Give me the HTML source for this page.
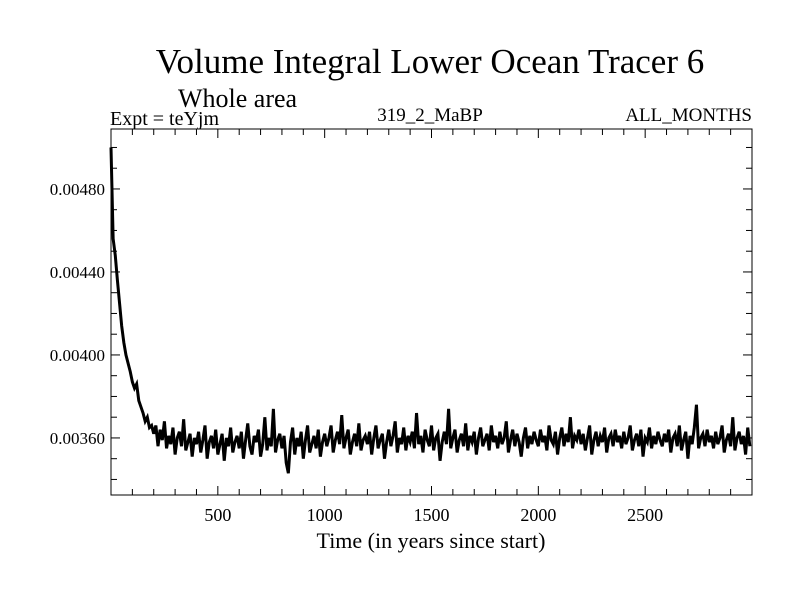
<!DOCTYPE html>
<html><head><meta charset="utf-8"><style>
body{margin:0;background:#fff;}
svg text{font-family:"Liberation Serif",serif;fill:#000;}
</style></head><body>
<svg id="chart" width="800" height="600" xmlns="http://www.w3.org/2000/svg">
<text x="430" y="73" font-size="35" text-anchor="middle">Volume Integral Lower Ocean Tracer 6</text>
<text x="178" y="107" font-size="26">Whole area</text>
<text x="110" y="125" font-size="20">Expt = teYjm</text>
<text x="430" y="121" font-size="19" text-anchor="middle">319_2_MaBP</text>
<text x="752" y="121" font-size="19" text-anchor="end">ALL_MONTHS</text>
<g id="axes"></g>
<path id="series" fill="none" stroke="#000" stroke-width="3" stroke-linejoin="miter"/>
<rect x="111" y="129" width="641" height="366" fill="none" stroke="#000" stroke-width="1"/>
<text x="431" y="548" font-size="22" text-anchor="middle">Time (in years since start)</text>
</svg>
<script>
const xTicks=[500,1000,1500,2000,2500];
const yTicks=[0.0036,0.0040,0.0044,0.0048];
const yTickLabels=["0.00360","0.00400","0.00440","0.00480"];
const yearStep=10;
const valuesE5=[500,456,448,436,425,414,406,400,396,392,387,384,386,378,375,372,368,370,365,366,
362,366,356,364,359,368,355,361,357,365,352,360,363,356,369,354,358,362,351,360,
357,363,353,359,366,350,358,361,355,364,352,357,362,349,360,356,365,353,358,361,
355,363,350,359,367,356,352,361,358,364,351,357,370,354,360,356,374,353,359,362,
355,361,348,343,358,365,352,360,356,363,350,359,366,353,357,361,355,364,351,358,
362,356,360,366,353,359,363,357,371,355,360,364,352,358,362,356,367,354,359,361,
357,363,352,360,366,355,359,362,350,358,364,356,361,368,353,360,357,365,354,361,
358,363,355,372,357,361,353,364,359,356,366,354,360,362,349,358,363,357,374,355,
360,364,353,359,362,356,367,354,361,358,363,352,360,365,356,359,362,354,366,358,
361,355,363,357,360,368,353,359,364,356,362,358,351,360,365,355,361,357,363,359,
356,364,358,361,354,366,359,357,363,352,360,365,356,362,358,370,355,361,359,364,
357,362,354,360,366,352,359,363,356,361,358,365,353,360,362,356,364,358,361,355,
363,357,360,366,354,359,362,356,364,351,360,358,365,355,361,357,363,359,356,362,
358,364,353,360,362,356,366,354,359,363,350,361,357,365,376,355,360,362,356,364,
358,361,355,363,357,360,366,353,359,362,356,370,354,360,363,357,361,352,365,356];
const X0=111,X1=752,Y0=495,Y1=129,XMIN=0,XMAX=3000,YMIN=0.003325,YMAX=0.005089;
function sx(v){return X0+(v-XMIN)/(XMAX-XMIN)*(X1-X0);}
function sy(v){return Y0-(v-YMIN)/(YMAX-YMIN)*(Y0-Y1);}
const NS="http://www.w3.org/2000/svg";
const ax=document.getElementById('axes');
function ln(x1,y1,x2,y2,name){const l=document.createElementNS(NS,'line');
l.setAttribute('x1',x1);l.setAttribute('y1',y1);l.setAttribute('x2',x2);l.setAttribute('y2',y2);
l.setAttribute('stroke','#000');l.setAttribute('stroke-width','1');


ax.appendChild(l);}
function tx(x,y,s,anchor,name,size){const t=document.createElementNS(NS,'text');
t.setAttribute('x',x);t.setAttribute('y',y);t.setAttribute('text-anchor',anchor);t.setAttribute('font-size',size);
t.textContent=s;


ax.appendChild(t);}
for(let v=100;v<3000;v+=100){const x=sx(v);const maj=v%500===0;const L=maj?9:6;
ln(x,Y0,x,Y0-L,'x-tick');ln(x,Y1,x,Y1+L,'x-tick-top');}
xTicks.forEach(v=>tx(sx(v),521,String(v),'middle','x-tick-label',18));
for(let v=0.0034;v<=0.0050001;v+=0.0001){const y=sy(v);const maj=Math.round(v*10000)%4===0;const L=maj?9:6;
ln(X0,y,X0+L,y,'y-tick');ln(X1,y,X1-L,y,'y-tick-right');}
yTicks.forEach((v,i)=>tx(105,sy(v)+6,yTickLabels[i],'end','y-tick-label',17));
let d='';valuesE5.forEach((v,i)=>{d+=(i?'L':'M')+sx(i*yearStep).toFixed(2)+' '+sy(v*1e-5).toFixed(2);});
document.getElementById('series').setAttribute('d',d);
</script>
</body></html>
